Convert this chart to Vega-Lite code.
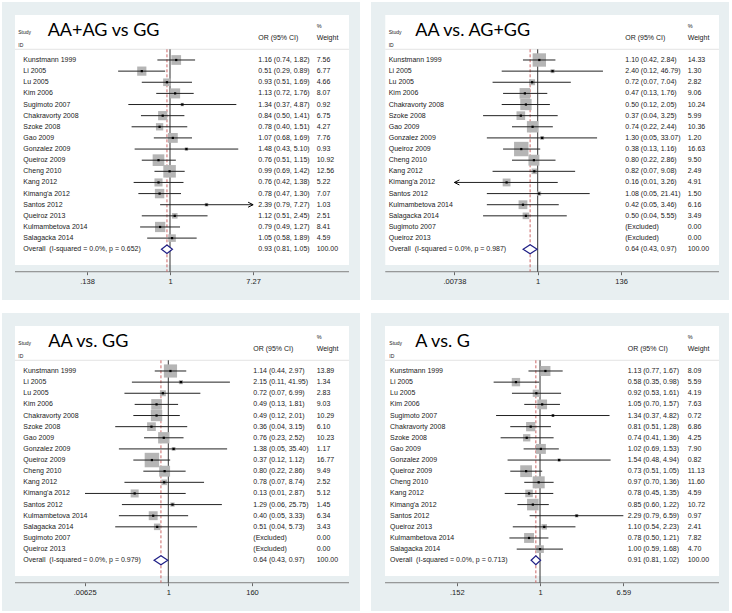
{
"$schema": "https://vega.github.io/schema/vega-lite/v6.json",
"background": "white",
"padding": {"left": 2, "top": 2, "right": 0, "bottom": 0},
"spacing": 13,
"config": {
  "view": {"stroke": null},
  "text": {"font": "Liberation Sans"},
  "axis": {"labelFont": "Liberation Sans", "labelFontSize": 7.5, "labelColor": "#222222", "tickColor": "#666666", "tickSize": 3, "domain": false, "grid": false, "labelPadding": 3, "labelFlush": false, "labelOverlap": false}
},
"datasets": {"forest": [
{"panel":1,"row":0,"study":"Kunstmann 1999","or":1.16,"lo":0.74,"hi":1.82,"ci_text":"1.16 (0.74, 1.82)","weight":7.56,"weight_text":"7.56","kind":"study"},
{"panel":1,"row":1,"study":"Li 2005","or":0.51,"lo":0.29,"hi":0.89,"ci_text":"0.51 (0.29, 0.89)","weight":6.77,"weight_text":"6.77","kind":"study"},
{"panel":1,"row":2,"study":"Lu 2005","or":0.93,"lo":0.51,"hi":1.69,"ci_text":"0.93 (0.51, 1.69)","weight":4.66,"weight_text":"4.66","kind":"study"},
{"panel":1,"row":3,"study":"Kim 2006","or":1.13,"lo":0.72,"hi":1.76,"ci_text":"1.13 (0.72, 1.76)","weight":8.07,"weight_text":"8.07","kind":"study"},
{"panel":1,"row":4,"study":"Sugimoto 2007","or":1.34,"lo":0.37,"hi":4.87,"ci_text":"1.34 (0.37, 4.87)","weight":0.92,"weight_text":"0.92","kind":"study"},
{"panel":1,"row":5,"study":"Chakravorty 2008","or":0.84,"lo":0.50,"hi":1.41,"ci_text":"0.84 (0.50, 1.41)","weight":6.75,"weight_text":"6.75","kind":"study"},
{"panel":1,"row":6,"study":"Szoke 2008","or":0.78,"lo":0.40,"hi":1.51,"ci_text":"0.78 (0.40, 1.51)","weight":4.27,"weight_text":"4.27","kind":"study"},
{"panel":1,"row":7,"study":"Gao 2009","or":1.07,"lo":0.68,"hi":1.69,"ci_text":"1.07 (0.68, 1.69)","weight":7.76,"weight_text":"7.76","kind":"study"},
{"panel":1,"row":8,"study":"Gonzalez 2009","or":1.48,"lo":0.43,"hi":5.10,"ci_text":"1.48 (0.43, 5.10)","weight":0.93,"weight_text":"0.93","kind":"study"},
{"panel":1,"row":9,"study":"Queiroz 2009","or":0.76,"lo":0.51,"hi":1.15,"ci_text":"0.76 (0.51, 1.15)","weight":10.92,"weight_text":"10.92","kind":"study"},
{"panel":1,"row":10,"study":"Cheng 2010","or":0.99,"lo":0.69,"hi":1.42,"ci_text":"0.99 (0.69, 1.42)","weight":12.56,"weight_text":"12.56","kind":"study"},
{"panel":1,"row":11,"study":"Kang 2012","or":0.76,"lo":0.42,"hi":1.38,"ci_text":"0.76 (0.42, 1.38)","weight":5.22,"weight_text":"5.22","kind":"study"},
{"panel":1,"row":12,"study":"Kimang'a 2012","or":0.78,"lo":0.47,"hi":1.30,"ci_text":"0.78 (0.47, 1.30)","weight":7.07,"weight_text":"7.07","kind":"study"},
{"panel":1,"row":13,"study":"Santos 2012","or":2.39,"lo":0.79,"hi":7.27,"ci_text":"2.39 (0.79, 7.27)","weight":1.03,"weight_text":"1.03","kind":"study","arrow":"right"},
{"panel":1,"row":14,"study":"Queiroz 2013","or":1.12,"lo":0.51,"hi":2.45,"ci_text":"1.12 (0.51, 2.45)","weight":2.51,"weight_text":"2.51","kind":"study"},
{"panel":1,"row":15,"study":"Kulmambetova 2014","or":0.79,"lo":0.49,"hi":1.27,"ci_text":"0.79 (0.49, 1.27)","weight":8.41,"weight_text":"8.41","kind":"study"},
{"panel":1,"row":16,"study":"Salagacka 2014","or":1.05,"lo":0.58,"hi":1.89,"ci_text":"1.05 (0.58, 1.89)","weight":4.59,"weight_text":"4.59","kind":"study"},
{"panel":1,"row":17,"study":"Overall\u00a0 (I-squared = 0.0%, p = 0.652)","or":0.93,"lo":0.81,"hi":1.05,"ci_text":"0.93 (0.81, 1.05)","weight":100,"weight_text":"100.00","kind":"overall"},
{"panel":2,"row":0,"study":"Kunstmann 1999","or":1.10,"lo":0.42,"hi":2.84,"ci_text":"1.10 (0.42, 2.84)","weight":14.33,"weight_text":"14.33","kind":"study"},
{"panel":2,"row":1,"study":"Li 2005","or":2.40,"lo":0.12,"hi":46.79,"ci_text":"2.40 (0.12, 46.79)","weight":1.30,"weight_text":"1.30","kind":"study"},
{"panel":2,"row":2,"study":"Lu 2005","or":0.72,"lo":0.07,"hi":7.04,"ci_text":"0.72 (0.07, 7.04)","weight":2.82,"weight_text":"2.82","kind":"study"},
{"panel":2,"row":3,"study":"Kim 2006","or":0.47,"lo":0.13,"hi":1.76,"ci_text":"0.47 (0.13, 1.76)","weight":9.06,"weight_text":"9.06","kind":"study"},
{"panel":2,"row":4,"study":"Chakravorty 2008","or":0.50,"lo":0.12,"hi":2.05,"ci_text":"0.50 (0.12, 2.05)","weight":10.24,"weight_text":"10.24","kind":"study"},
{"panel":2,"row":5,"study":"Szoke 2008","or":0.37,"lo":0.04,"hi":3.25,"ci_text":"0.37 (0.04, 3.25)","weight":5.99,"weight_text":"5.99","kind":"study"},
{"panel":2,"row":6,"study":"Gao 2009","or":0.74,"lo":0.22,"hi":2.44,"ci_text":"0.74 (0.22, 2.44)","weight":10.36,"weight_text":"10.36","kind":"study"},
{"panel":2,"row":7,"study":"Gonzalez 2009","or":1.30,"lo":0.05,"hi":33.07,"ci_text":"1.30 (0.05, 33.07)","weight":1.20,"weight_text":"1.20","kind":"study"},
{"panel":2,"row":8,"study":"Queiroz 2009","or":0.38,"lo":0.13,"hi":1.16,"ci_text":"0.38 (0.13, 1.16)","weight":16.63,"weight_text":"16.63","kind":"study"},
{"panel":2,"row":9,"study":"Cheng 2010","or":0.80,"lo":0.22,"hi":2.86,"ci_text":"0.80 (0.22, 2.86)","weight":9.50,"weight_text":"9.50","kind":"study"},
{"panel":2,"row":10,"study":"Kang 2012","or":0.82,"lo":0.07,"hi":9.08,"ci_text":"0.82 (0.07, 9.08)","weight":2.49,"weight_text":"2.49","kind":"study"},
{"panel":2,"row":11,"study":"Kimang'a 2012","or":0.16,"lo":0.00738,"hi":3.26,"ci_text":"0.16 (0.01, 3.26)","weight":4.91,"weight_text":"4.91","kind":"study","arrow":"left"},
{"panel":2,"row":12,"study":"Santos 2012","or":1.08,"lo":0.05,"hi":21.41,"ci_text":"1.08 (0.05, 21.41)","weight":1.50,"weight_text":"1.50","kind":"study"},
{"panel":2,"row":13,"study":"Kulmambetova 2014","or":0.42,"lo":0.05,"hi":3.46,"ci_text":"0.42 (0.05, 3.46)","weight":6.16,"weight_text":"6.16","kind":"study"},
{"panel":2,"row":14,"study":"Salagacka 2014","or":0.50,"lo":0.04,"hi":5.55,"ci_text":"0.50 (0.04, 5.55)","weight":3.49,"weight_text":"3.49","kind":"study"},
{"panel":2,"row":15,"study":"Sugimoto 2007","or":null,"lo":null,"hi":null,"ci_text":"(Excluded)","weight":0,"weight_text":"0.00","kind":"excluded"},
{"panel":2,"row":16,"study":"Queiroz 2013","or":null,"lo":null,"hi":null,"ci_text":"(Excluded)","weight":0,"weight_text":"0.00","kind":"excluded"},
{"panel":2,"row":17,"study":"Overall\u00a0 (I-squared = 0.0%, p = 0.987)","or":0.64,"lo":0.43,"hi":0.97,"ci_text":"0.64 (0.43, 0.97)","weight":100,"weight_text":"100.00","kind":"overall"},
{"panel":3,"row":0,"study":"Kunstmann 1999","or":1.14,"lo":0.44,"hi":2.97,"ci_text":"1.14 (0.44, 2.97)","weight":13.89,"weight_text":"13.89","kind":"study"},
{"panel":3,"row":1,"study":"Li 2005","or":2.15,"lo":0.11,"hi":41.95,"ci_text":"2.15 (0.11, 41.95)","weight":1.34,"weight_text":"1.34","kind":"study"},
{"panel":3,"row":2,"study":"Lu 2005","or":0.72,"lo":0.07,"hi":6.99,"ci_text":"0.72 (0.07, 6.99)","weight":2.83,"weight_text":"2.83","kind":"study"},
{"panel":3,"row":3,"study":"Kim 2006","or":0.49,"lo":0.13,"hi":1.81,"ci_text":"0.49 (0.13, 1.81)","weight":9.03,"weight_text":"9.03","kind":"study"},
{"panel":3,"row":4,"study":"Chakravorty 2008","or":0.49,"lo":0.12,"hi":2.01,"ci_text":"0.49 (0.12, 2.01)","weight":10.29,"weight_text":"10.29","kind":"study"},
{"panel":3,"row":5,"study":"Szoke 2008","or":0.36,"lo":0.04,"hi":3.15,"ci_text":"0.36 (0.04, 3.15)","weight":6.10,"weight_text":"6.10","kind":"study"},
{"panel":3,"row":6,"study":"Gao 2009","or":0.76,"lo":0.23,"hi":2.52,"ci_text":"0.76 (0.23, 2.52)","weight":10.23,"weight_text":"10.23","kind":"study"},
{"panel":3,"row":7,"study":"Gonzalez 2009","or":1.38,"lo":0.05,"hi":35.40,"ci_text":"1.38 (0.05, 35.40)","weight":1.17,"weight_text":"1.17","kind":"study"},
{"panel":3,"row":8,"study":"Queiroz 2009","or":0.37,"lo":0.12,"hi":1.12,"ci_text":"0.37 (0.12, 1.12)","weight":16.77,"weight_text":"16.77","kind":"study"},
{"panel":3,"row":9,"study":"Cheng 2010","or":0.80,"lo":0.22,"hi":2.86,"ci_text":"0.80 (0.22, 2.86)","weight":9.49,"weight_text":"9.49","kind":"study"},
{"panel":3,"row":10,"study":"Kang 2012","or":0.78,"lo":0.07,"hi":8.74,"ci_text":"0.78 (0.07, 8.74)","weight":2.52,"weight_text":"2.52","kind":"study"},
{"panel":3,"row":11,"study":"Kimang'a 2012","or":0.13,"lo":0.0064,"hi":2.87,"ci_text":"0.13 (0.01, 2.87)","weight":5.12,"weight_text":"5.12","kind":"study"},
{"panel":3,"row":12,"study":"Santos 2012","or":1.29,"lo":0.06,"hi":25.75,"ci_text":"1.29 (0.06, 25.75)","weight":1.45,"weight_text":"1.45","kind":"study"},
{"panel":3,"row":13,"study":"Kulmambetova 2014","or":0.40,"lo":0.05,"hi":3.33,"ci_text":"0.40 (0.05, 3.33)","weight":6.34,"weight_text":"6.34","kind":"study"},
{"panel":3,"row":14,"study":"Salagacka 2014","or":0.51,"lo":0.04,"hi":5.73,"ci_text":"0.51 (0.04, 5.73)","weight":3.43,"weight_text":"3.43","kind":"study"},
{"panel":3,"row":15,"study":"Sugimoto 2007","or":null,"lo":null,"hi":null,"ci_text":"(Excluded)","weight":0,"weight_text":"0.00","kind":"excluded"},
{"panel":3,"row":16,"study":"Queiroz 2013","or":null,"lo":null,"hi":null,"ci_text":"(Excluded)","weight":0,"weight_text":"0.00","kind":"excluded"},
{"panel":3,"row":17,"study":"Overall\u00a0 (I-squared = 0.0%, p = 0.979)","or":0.64,"lo":0.43,"hi":0.97,"ci_text":"0.64 (0.43, 0.97)","weight":100,"weight_text":"100.00","kind":"overall"},
{"panel":4,"row":0,"study":"Kunstmann 1999","or":1.13,"lo":0.77,"hi":1.67,"ci_text":"1.13 (0.77, 1.67)","weight":8.09,"weight_text":"8.09","kind":"study"},
{"panel":4,"row":1,"study":"Li 2005","or":0.58,"lo":0.35,"hi":0.98,"ci_text":"0.58 (0.35, 0.98)","weight":5.59,"weight_text":"5.59","kind":"study"},
{"panel":4,"row":2,"study":"Lu 2005","or":0.92,"lo":0.53,"hi":1.61,"ci_text":"0.92 (0.53, 1.61)","weight":4.19,"weight_text":"4.19","kind":"study"},
{"panel":4,"row":3,"study":"Kim 2006","or":1.05,"lo":0.70,"hi":1.57,"ci_text":"1.05 (0.70, 1.57)","weight":7.63,"weight_text":"7.63","kind":"study"},
{"panel":4,"row":4,"study":"Sugimoto 2007","or":1.34,"lo":0.37,"hi":4.82,"ci_text":"1.34 (0.37, 4.82)","weight":0.72,"weight_text":"0.72","kind":"study"},
{"panel":4,"row":5,"study":"Chakravorty 2008","or":0.81,"lo":0.51,"hi":1.28,"ci_text":"0.81 (0.51, 1.28)","weight":6.86,"weight_text":"6.86","kind":"study"},
{"panel":4,"row":6,"study":"Szoke 2008","or":0.74,"lo":0.41,"hi":1.36,"ci_text":"0.74 (0.41, 1.36)","weight":4.25,"weight_text":"4.25","kind":"study"},
{"panel":4,"row":7,"study":"Gao 2009","or":1.02,"lo":0.69,"hi":1.53,"ci_text":"1.02 (0.69, 1.53)","weight":7.90,"weight_text":"7.90","kind":"study"},
{"panel":4,"row":8,"study":"Gonzalez 2009","or":1.54,"lo":0.48,"hi":4.94,"ci_text":"1.54 (0.48, 4.94)","weight":0.82,"weight_text":"0.82","kind":"study"},
{"panel":4,"row":9,"study":"Queiroz 2009","or":0.73,"lo":0.51,"hi":1.05,"ci_text":"0.73 (0.51, 1.05)","weight":11.13,"weight_text":"11.13","kind":"study"},
{"panel":4,"row":10,"study":"Cheng 2010","or":0.97,"lo":0.70,"hi":1.36,"ci_text":"0.97 (0.70, 1.36)","weight":11.60,"weight_text":"11.60","kind":"study"},
{"panel":4,"row":11,"study":"Kang 2012","or":0.78,"lo":0.45,"hi":1.35,"ci_text":"0.78 (0.45, 1.35)","weight":4.59,"weight_text":"4.59","kind":"study"},
{"panel":4,"row":12,"study":"Kimang'a 2012","or":0.85,"lo":0.60,"hi":1.22,"ci_text":"0.85 (0.60, 1.22)","weight":10.72,"weight_text":"10.72","kind":"study"},
{"panel":4,"row":13,"study":"Santos 2012","or":2.29,"lo":0.79,"hi":6.59,"ci_text":"2.29 (0.79, 6.59)","weight":0.97,"weight_text":"0.97","kind":"study"},
{"panel":4,"row":14,"study":"Queiroz 2013","or":1.10,"lo":0.54,"hi":2.23,"ci_text":"1.10 (0.54, 2.23)","weight":2.41,"weight_text":"2.41","kind":"study"},
{"panel":4,"row":15,"study":"Kulmambetova 2014","or":0.78,"lo":0.50,"hi":1.21,"ci_text":"0.78 (0.50, 1.21)","weight":7.82,"weight_text":"7.82","kind":"study"},
{"panel":4,"row":16,"study":"Salagacka 2014","or":1.00,"lo":0.59,"hi":1.68,"ci_text":"1.00 (0.59, 1.68)","weight":4.70,"weight_text":"4.70","kind":"study"},
{"panel":4,"row":17,"study":"Overall\u00a0 (I-squared = 0.0%, p = 0.713)","or":0.91,"lo":0.81,"hi":1.02,"ci_text":"0.91 (0.81, 1.02)","weight":100,"weight_text":"100.00","kind":"overall"}
]},
"vconcat": [
{"hconcat": [
{
 "width": 358, "height": 298,
 "view": {"fill": "#e8eff1", "stroke": null},
 "data": {"name": "forest"},
 "transform": [{"filter": "datum.panel == 1"}],
 "encoding": {
  "y": {"field": "row", "type": "quantitative", "scale": {"domain": [-5.21, 21.56], "reverse": true, "nice": false, "zero": false}, "axis": null}
 },
 "layer": [
  {"transform": [{"filter": "datum.row == 0"}], "mark": {"type": "rect", "fill": "#ffffff"}, "encoding": {"x": {"datum": 0.02474}, "x2": {"datum": 71.67}, "y": {"datum": -4.04, "axis": null}, "y2": {"datum": 18.42}}},
  {"transform": [{"filter": "datum.row == 0"}], "mark": {"type": "rule", "stroke": "#dddddd", "strokeWidth": 0.8}, "encoding": {"x": {"datum": 0.02474}, "x2": {"datum": 71.67}, "y": {"datum": -0.96, "axis": null}}},
  {"transform": [{"filter": "datum.row == 0"}], "mark": {"type": "rule", "stroke": "#808080", "strokeWidth": 1}, "encoding": {"x": {"datum": 0.02474}, "x2": {"datum": 71.67}, "y": {"datum": 19.02, "axis": null}}},
  {"transform": [{"filter": "datum.row == 0"}], "mark": {"type": "rule", "stroke": "#333333", "strokeWidth": 1}, "encoding": {"x": {"datum": 1}, "y": {"datum": -0.96, "axis": null}, "y2": {"datum": 19.02}}},
  {"transform": [{"filter": "datum.kind == 'overall'"}], "mark": {"type": "rule", "stroke": "#cc6666", "strokeWidth": 1, "strokeDash": [3, 2]}, "encoding": {"x": {"field": "or", "type": "quantitative", "title": null}, "y": {"datum": -0.96, "axis": null}, "y2": {"datum": 19.02}}},
  {"transform": [{"filter": "datum.kind == 'study'"}], "mark": {"type": "point", "shape": "square", "filled": true, "color": "#b5b5b5", "opacity": 1}, "encoding": {"x": {"field": "or", "type": "quantitative", "title": null, "scale": {"type": "log", "domain": [0.01814, 93.19], "nice": false}, "axis": {"values": [0.138, 1, 7.27], "title": null, "orient": "bottom", "offset": -28.3, "labelExpr": "datum.value < 1 ? substring(toString(datum.value), 1) : toString(datum.value)"}}, "size": {"field": "weight", "type": "quantitative", "scale": {"domain": [0, 20], "range": [0, 250]}, "legend": null}}},
  {"transform": [{"filter": "datum.kind == 'study'"}], "mark": {"type": "rule", "stroke": "#222222", "strokeWidth": 1}, "encoding": {"x": {"field": "lo", "type": "quantitative", "title": null}, "x2": {"field": "hi"}}},
  {"transform": [{"filter": "datum.kind == 'study'"}], "mark": {"type": "point", "shape": "square", "filled": true, "color": "#000000", "size": 5, "opacity": 1}, "encoding": {"x": {"field": "or", "type": "quantitative", "title": null}}},
  {"transform": [{"filter": "datum.kind == 'overall'"}], "mark": {"type": "point", "shape": "M-1,0L0,-0.78L1,0L0,0.78Z", "filled": true, "fill": "#ffffff", "stroke": "#1f1f86", "strokeWidth": 1.2, "size": 121, "opacity": 1}, "encoding": {"x": {"field": "or", "type": "quantitative", "title": null}}},
  {"transform": [{"filter": "datum.arrow == 'right'"}], "mark": {"type": "point", "shape": "M-2,-1L0,0L-2,1", "filled": false, "color": "#000000", "strokeWidth": 1, "size": 25, "opacity": 1}, "encoding": {"x": {"field": "hi", "type": "quantitative", "title": null}}},
  {"mark": {"type": "text", "align": "left", "baseline": "middle", "fontSize": 7, "color": "#1a1a1a"}, "encoding": {"x": {"datum": 0.03016}, "text": {"field": "study"}}},
  {"mark": {"type": "text", "align": "left", "baseline": "middle", "fontSize": 7, "color": "#1a1a1a"}, "encoding": {"x": {"datum": 8.226}, "text": {"field": "ci_text"}}},
  {"mark": {"type": "text", "align": "left", "baseline": "middle", "fontSize": 7, "color": "#1a1a1a"}, "encoding": {"x": {"datum": 33.15}, "text": {"field": "weight_text"}}},
  {"transform": [{"filter": "datum.row == 0"}], "mark": {"type": "text", "text": ["Study", "ID"], "lineHeight": 12.6, "align": "left", "baseline": "middle", "fontSize": 5, "color": "#1a1a1a"}, "encoding": {"x": {"datum": 0.02676}, "y": {"datum": -2.52, "axis": null}}},
  {"transform": [{"filter": "datum.row == 0"}], "mark": {"type": "text", "text": "AA+AG vs GG", "align": "left", "baseline": "alphabetic", "font": "Lato", "fontSize": 18, "color": "#000000"}, "encoding": {"x": {"datum": 0.05397}, "y": {"datum": -2.12, "axis": null}}},
  {"transform": [{"filter": "datum.row == 0"}], "mark": {"type": "text", "text": "OR (95% CI)", "align": "left", "baseline": "middle", "fontSize": 7, "color": "#1a1a1a"}, "encoding": {"x": {"datum": 8.226}, "y": {"datum": -1.95, "axis": null}}},
  {"transform": [{"filter": "datum.row == 0"}], "mark": {"type": "text", "text": "%", "align": "left", "baseline": "middle", "fontSize": 5.5, "color": "#1a1a1a"}, "encoding": {"x": {"datum": 33.15}, "y": {"datum": -3.08, "axis": null}}},
  {"transform": [{"filter": "datum.row == 0"}], "mark": {"type": "text", "text": "Weight", "align": "left", "baseline": "middle", "fontSize": 7, "color": "#1a1a1a"}, "encoding": {"x": {"datum": 33.15}, "y": {"datum": -1.95, "axis": null}}}
 ]
},
{
 "width": 358, "height": 298,
 "view": {"fill": "#e8eff1", "stroke": null},
 "data": {"name": "forest"},
 "transform": [{"filter": "datum.panel == 2"}],
 "encoding": {
  "y": {"field": "row", "type": "quantitative", "scale": {"domain": [-5.21, 21.56], "reverse": true, "nice": false, "zero": false}, "axis": null}
 },
 "layer": [
  {"transform": [{"filter": "datum.row == 0"}], "mark": {"type": "rect", "fill": "#ffffff"}, "encoding": {"x": {"datum": 0.0001257}, "x2": {"datum": 43640}, "y": {"datum": -4.04, "axis": null}, "y2": {"datum": 18.42}}},
  {"transform": [{"filter": "datum.row == 0"}], "mark": {"type": "rule", "stroke": "#dddddd", "strokeWidth": 0.8}, "encoding": {"x": {"datum": 0.0001257}, "x2": {"datum": 43640}, "y": {"datum": -0.96, "axis": null}}},
  {"transform": [{"filter": "datum.row == 0"}], "mark": {"type": "rule", "stroke": "#808080", "strokeWidth": 1}, "encoding": {"x": {"datum": 0.0001257}, "x2": {"datum": 43640}, "y": {"datum": 19.02, "axis": null}}},
  {"transform": [{"filter": "datum.row == 0"}], "mark": {"type": "rule", "stroke": "#333333", "strokeWidth": 1}, "encoding": {"x": {"datum": 1}, "y": {"datum": -0.96, "axis": null}, "y2": {"datum": 19.02}}},
  {"transform": [{"filter": "datum.kind == 'overall'"}], "mark": {"type": "rule", "stroke": "#cc6666", "strokeWidth": 1, "strokeDash": [3, 2]}, "encoding": {"x": {"field": "or", "type": "quantitative", "title": null}, "y": {"datum": -0.96, "axis": null}, "y2": {"datum": 19.02}}},
  {"transform": [{"filter": "datum.kind == 'study'"}], "mark": {"type": "point", "shape": "square", "filled": true, "color": "#b5b5b5", "opacity": 1}, "encoding": {"x": {"field": "or", "type": "quantitative", "title": null, "scale": {"type": "log", "domain": [0.0000542, 78670], "nice": false}, "axis": {"values": [0.00738, 1, 136], "title": null, "orient": "bottom", "offset": -28.3, "labelExpr": "datum.value < 1 ? substring(toString(datum.value), 1) : toString(datum.value)"}}, "size": {"field": "weight", "type": "quantitative", "scale": {"domain": [0, 20], "range": [0, 160]}, "legend": null}}},
  {"transform": [{"filter": "datum.kind == 'study'"}], "mark": {"type": "rule", "stroke": "#222222", "strokeWidth": 1}, "encoding": {"x": {"field": "lo", "type": "quantitative", "title": null}, "x2": {"field": "hi"}}},
  {"transform": [{"filter": "datum.kind == 'study'"}], "mark": {"type": "point", "shape": "square", "filled": true, "color": "#000000", "size": 5, "opacity": 1}, "encoding": {"x": {"field": "or", "type": "quantitative", "title": null}}},
  {"transform": [{"filter": "datum.kind == 'overall'"}], "mark": {"type": "point", "shape": "M-1,0L0,-0.64L1,0L0,0.64Z", "filled": true, "fill": "#ffffff", "stroke": "#1f1f86", "strokeWidth": 1.2, "size": 196, "opacity": 1}, "encoding": {"x": {"field": "or", "type": "quantitative", "title": null}}},
  {"transform": [{"filter": "datum.arrow == 'left'"}], "mark": {"type": "point", "shape": "M2,-1L0,0L2,1", "filled": false, "color": "#000000", "strokeWidth": 1, "size": 25, "opacity": 1}, "encoding": {"x": {"field": "lo", "type": "quantitative", "title": null}}},
  {"mark": {"type": "text", "align": "left", "baseline": "middle", "fontSize": 7, "color": "#1a1a1a"}, "encoding": {"x": {"datum": 0.0001538}, "text": {"field": "study"}}},
  {"mark": {"type": "text", "align": "left", "baseline": "middle", "fontSize": 7, "color": "#1a1a1a"}, "encoding": {"x": {"datum": 174.5}, "text": {"field": "ci_text"}}},
  {"mark": {"type": "text", "align": "left", "baseline": "middle", "fontSize": 7, "color": "#1a1a1a"}, "encoding": {"x": {"datum": 6896}, "text": {"field": "weight_text"}}},
  {"transform": [{"filter": "datum.row == 0"}], "mark": {"type": "text", "text": ["Study", "ID"], "lineHeight": 12.6, "align": "left", "baseline": "middle", "fontSize": 5, "color": "#1a1a1a"}, "encoding": {"x": {"datum": 0.0001538}, "y": {"datum": -2.52, "axis": null}}},
  {"transform": [{"filter": "datum.row == 0"}], "mark": {"type": "text", "text": "AA vs. AG+GG", "align": "left", "baseline": "alphabetic", "font": "Lato", "fontSize": 18, "color": "#000000"}, "encoding": {"x": {"datum": 0.000737}, "y": {"datum": -2.12, "axis": null}}},
  {"transform": [{"filter": "datum.row == 0"}], "mark": {"type": "text", "text": "OR (95% CI)", "align": "left", "baseline": "middle", "fontSize": 7, "color": "#1a1a1a"}, "encoding": {"x": {"datum": 174.5}, "y": {"datum": -1.95, "axis": null}}},
  {"transform": [{"filter": "datum.row == 0"}], "mark": {"type": "text", "text": "%", "align": "left", "baseline": "middle", "fontSize": 5.5, "color": "#1a1a1a"}, "encoding": {"x": {"datum": 6896}, "y": {"datum": -3.08, "axis": null}}},
  {"transform": [{"filter": "datum.row == 0"}], "mark": {"type": "text", "text": "Weight", "align": "left", "baseline": "middle", "fontSize": 7, "color": "#1a1a1a"}, "encoding": {"x": {"datum": 6896}, "y": {"datum": -1.95, "axis": null}}}
 ]
}
], "spacing": 11},
{"hconcat": [
{
 "width": 358, "height": 298,
 "view": {"fill": "#e8eff1", "stroke": null},
 "data": {"name": "forest"},
 "transform": [{"filter": "datum.panel == 3"}],
 "encoding": {
  "y": {"field": "row", "type": "quantitative", "scale": {"domain": [-5.21, 21.56], "reverse": true, "nice": false, "zero": false}, "axis": null}
 },
 "layer": [
  {"transform": [{"filter": "datum.row == 0"}], "mark": {"type": "rect", "fill": "#ffffff"}, "encoding": {"x": {"datum": 0.0000917}, "x2": {"datum": 57413}, "y": {"datum": -4.04, "axis": null}, "y2": {"datum": 18.42}}},
  {"transform": [{"filter": "datum.row == 0"}], "mark": {"type": "rule", "stroke": "#dddddd", "strokeWidth": 0.8}, "encoding": {"x": {"datum": 0.0000917}, "x2": {"datum": 57413}, "y": {"datum": -0.96, "axis": null}}},
  {"transform": [{"filter": "datum.row == 0"}], "mark": {"type": "rule", "stroke": "#808080", "strokeWidth": 1}, "encoding": {"x": {"datum": 0.0000917}, "x2": {"datum": 57413}, "y": {"datum": 19.02, "axis": null}}},
  {"transform": [{"filter": "datum.row == 0"}], "mark": {"type": "rule", "stroke": "#333333", "strokeWidth": 1}, "encoding": {"x": {"datum": 1}, "y": {"datum": -0.96, "axis": null}, "y2": {"datum": 19.02}}},
  {"transform": [{"filter": "datum.kind == 'overall'"}], "mark": {"type": "rule", "stroke": "#cc6666", "strokeWidth": 1, "strokeDash": [3, 2]}, "encoding": {"x": {"field": "or", "type": "quantitative", "title": null}, "y": {"datum": -0.96, "axis": null}, "y2": {"datum": 19.02}}},
  {"transform": [{"filter": "datum.kind == 'study'"}], "mark": {"type": "point", "shape": "square", "filled": true, "color": "#b5b5b5", "opacity": 1}, "encoding": {"x": {"field": "or", "type": "quantitative", "title": null, "scale": {"type": "log", "domain": [0.0000417, 111850], "nice": false}, "axis": {"values": [0.00625, 1, 160], "title": null, "orient": "bottom", "offset": -28.3, "labelExpr": "datum.value < 1 ? substring(toString(datum.value), 1) : toString(datum.value)"}}, "size": {"field": "weight", "type": "quantitative", "scale": {"domain": [0, 20], "range": [0, 160]}, "legend": null}}},
  {"transform": [{"filter": "datum.kind == 'study'"}], "mark": {"type": "rule", "stroke": "#222222", "strokeWidth": 1}, "encoding": {"x": {"field": "lo", "type": "quantitative", "title": null}, "x2": {"field": "hi"}}},
  {"transform": [{"filter": "datum.kind == 'study'"}], "mark": {"type": "point", "shape": "square", "filled": true, "color": "#000000", "size": 5, "opacity": 1}, "encoding": {"x": {"field": "or", "type": "quantitative", "title": null}}},
  {"transform": [{"filter": "datum.kind == 'overall'"}], "mark": {"type": "point", "shape": "M-1,0L0,-0.66L1,0L0,0.66Z", "filled": true, "fill": "#ffffff", "stroke": "#1f1f86", "strokeWidth": 1.2, "size": 188, "opacity": 1}, "encoding": {"x": {"field": "or", "type": "quantitative", "title": null}}},
  {"mark": {"type": "text", "align": "left", "baseline": "middle", "fontSize": 7, "color": "#1a1a1a"}, "encoding": {"x": {"datum": 0.0001518}, "text": {"field": "study"}}},
  {"mark": {"type": "text", "align": "left", "baseline": "middle", "fontSize": 7, "color": "#1a1a1a"}, "encoding": {"x": {"datum": 173.3}, "text": {"field": "ci_text"}}},
  {"mark": {"type": "text", "align": "left", "baseline": "middle", "fontSize": 7, "color": "#1a1a1a"}, "encoding": {"x": {"datum": 8103}, "text": {"field": "weight_text"}}},
  {"transform": [{"filter": "datum.row == 0"}], "mark": {"type": "text", "text": ["Study", "ID"], "lineHeight": 12.6, "align": "left", "baseline": "middle", "fontSize": 5, "color": "#1a1a1a"}, "encoding": {"x": {"datum": 0.0001121}, "y": {"datum": -2.52, "axis": null}}},
  {"transform": [{"filter": "datum.row == 0"}], "mark": {"type": "text", "text": "AA vs. GG", "align": "left", "baseline": "alphabetic", "font": "Lato", "fontSize": 18, "color": "#000000"}, "encoding": {"x": {"datum": 0.000691}, "y": {"datum": -2.12, "axis": null}}},
  {"transform": [{"filter": "datum.row == 0"}], "mark": {"type": "text", "text": "OR (95% CI)", "align": "left", "baseline": "middle", "fontSize": 7, "color": "#1a1a1a"}, "encoding": {"x": {"datum": 173.3}, "y": {"datum": -1.95, "axis": null}}},
  {"transform": [{"filter": "datum.row == 0"}], "mark": {"type": "text", "text": "%", "align": "left", "baseline": "middle", "fontSize": 5.5, "color": "#1a1a1a"}, "encoding": {"x": {"datum": 8103}, "y": {"datum": -3.08, "axis": null}}},
  {"transform": [{"filter": "datum.row == 0"}], "mark": {"type": "text", "text": "Weight", "align": "left", "baseline": "middle", "fontSize": 7, "color": "#1a1a1a"}, "encoding": {"x": {"datum": 8103}, "y": {"datum": -1.95, "axis": null}}}
 ]
},
{
 "width": 358, "height": 298,
 "view": {"fill": "#e8eff1", "stroke": null},
 "data": {"name": "forest"},
 "transform": [{"filter": "datum.panel == 4"}],
 "encoding": {
  "y": {"field": "row", "type": "quantitative", "scale": {"domain": [-5.21, 21.56], "reverse": true, "nice": false, "zero": false}, "axis": null}
 },
 "layer": [
  {"transform": [{"filter": "datum.row == 0"}], "mark": {"type": "rect", "fill": "#ffffff"}, "encoding": {"x": {"datum": 0.02999}, "x2": {"datum": 57.40}, "y": {"datum": -4.04, "axis": null}, "y2": {"datum": 18.42}}},
  {"transform": [{"filter": "datum.row == 0"}], "mark": {"type": "rule", "stroke": "#dddddd", "strokeWidth": 0.8}, "encoding": {"x": {"datum": 0.02999}, "x2": {"datum": 57.40}, "y": {"datum": -0.96, "axis": null}}},
  {"transform": [{"filter": "datum.row == 0"}], "mark": {"type": "rule", "stroke": "#808080", "strokeWidth": 1}, "encoding": {"x": {"datum": 0.02999}, "x2": {"datum": 57.40}, "y": {"datum": 19.02, "axis": null}}},
  {"transform": [{"filter": "datum.row == 0"}], "mark": {"type": "rule", "stroke": "#333333", "strokeWidth": 1}, "encoding": {"x": {"datum": 1}, "y": {"datum": -0.96, "axis": null}, "y2": {"datum": 19.02}}},
  {"transform": [{"filter": "datum.kind == 'overall'"}], "mark": {"type": "rule", "stroke": "#cc6666", "strokeWidth": 1, "strokeDash": [3, 2]}, "encoding": {"x": {"field": "or", "type": "quantitative", "title": null}, "y": {"datum": -0.96, "axis": null}, "y2": {"datum": 19.02}}},
  {"transform": [{"filter": "datum.kind == 'study'"}], "mark": {"type": "point", "shape": "square", "filled": true, "color": "#b5b5b5", "opacity": 1}, "encoding": {"x": {"field": "or", "type": "quantitative", "title": null, "scale": {"type": "log", "domain": [0.02183, 71.95], "nice": false}, "axis": {"values": [0.152, 1, 6.59], "title": null, "orient": "bottom", "offset": -28.3, "labelExpr": "datum.value < 1 ? substring(toString(datum.value), 1) : toString(datum.value)"}}, "size": {"field": "weight", "type": "quantitative", "scale": {"domain": [0, 20], "range": [0, 270]}, "legend": null}}},
  {"transform": [{"filter": "datum.kind == 'study'"}], "mark": {"type": "rule", "stroke": "#222222", "strokeWidth": 1}, "encoding": {"x": {"field": "lo", "type": "quantitative", "title": null}, "x2": {"field": "hi"}}},
  {"transform": [{"filter": "datum.kind == 'study'"}], "mark": {"type": "point", "shape": "square", "filled": true, "color": "#000000", "size": 5, "opacity": 1}, "encoding": {"x": {"field": "or", "type": "quantitative", "title": null}}},
  {"transform": [{"filter": "datum.kind == 'overall'"}], "mark": {"type": "point", "shape": "M-1,0L0,-0.95L1,0L0,0.95Z", "filled": true, "fill": "#ffffff", "stroke": "#1f1f86", "strokeWidth": 1.2, "size": 90, "opacity": 1}, "encoding": {"x": {"field": "or", "type": "quantitative", "title": null}}},
  {"mark": {"type": "text", "align": "left", "baseline": "middle", "fontSize": 7, "color": "#1a1a1a"}, "encoding": {"x": {"datum": 0.03359}, "text": {"field": "study"}}},
  {"mark": {"type": "text", "align": "left", "baseline": "middle", "fontSize": 7, "color": "#1a1a1a"}, "encoding": {"x": {"datum": 7.27}, "text": {"field": "ci_text"}}},
  {"mark": {"type": "text", "align": "left", "baseline": "middle", "fontSize": 7, "color": "#1a1a1a"}, "encoding": {"x": {"datum": 28.27}, "text": {"field": "weight_text"}}},
  {"transform": [{"filter": "datum.row == 0"}], "mark": {"type": "text", "text": ["Study", "ID"], "lineHeight": 12.6, "align": "left", "baseline": "middle", "fontSize": 5, "color": "#1a1a1a"}, "encoding": {"x": {"datum": 0.03305}, "y": {"datum": -2.52, "axis": null}}},
  {"transform": [{"filter": "datum.row == 0"}], "mark": {"type": "text", "text": "A vs. G", "align": "left", "baseline": "alphabetic", "font": "Lato", "fontSize": 18, "color": "#000000"}, "encoding": {"x": {"datum": 0.05953}, "y": {"datum": -2.12, "axis": null}}},
  {"transform": [{"filter": "datum.row == 0"}], "mark": {"type": "text", "text": "OR (95% CI)", "align": "left", "baseline": "middle", "fontSize": 7, "color": "#1a1a1a"}, "encoding": {"x": {"datum": 7.27}, "y": {"datum": -1.95, "axis": null}}},
  {"transform": [{"filter": "datum.row == 0"}], "mark": {"type": "text", "text": "%", "align": "left", "baseline": "middle", "fontSize": 5.5, "color": "#1a1a1a"}, "encoding": {"x": {"datum": 28.27}, "y": {"datum": -3.08, "axis": null}}},
  {"transform": [{"filter": "datum.row == 0"}], "mark": {"type": "text", "text": "Weight", "align": "left", "baseline": "middle", "fontSize": 7, "color": "#1a1a1a"}, "encoding": {"x": {"datum": 28.27}, "y": {"datum": -1.95, "axis": null}}}
 ]
}
], "spacing": 11}
]
}
